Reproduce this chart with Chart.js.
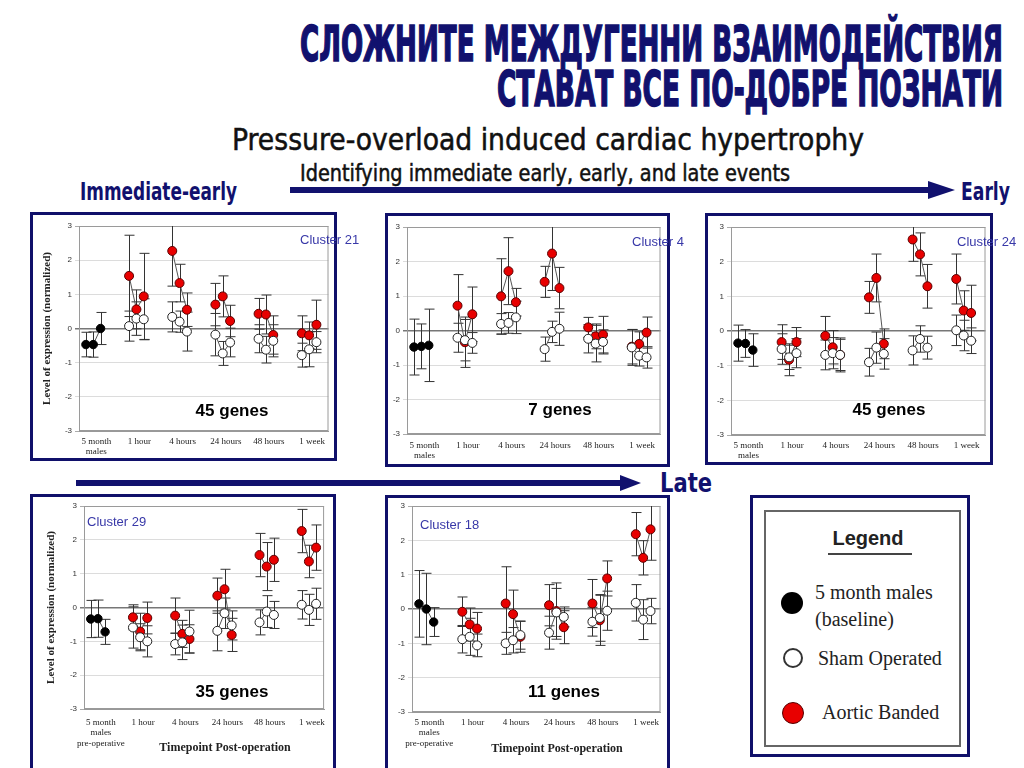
<!DOCTYPE html>
<html>
<head>
<meta charset="utf-8">
<script src="https://cdn.jsdelivr.net/npm/chart.js@4/dist/chart.umd.min.js"></script>
<style>
  html, body { margin:0; padding:0; background:#fff; }
  body { width:1024px; height:768px; position:relative; overflow:hidden; font-family:"Liberation Sans", Arial, sans-serif; }
  .t { position:absolute; white-space:nowrap; line-height:1; transform-origin:left center; }
  .narrow { font-family:"Liberation Sans Narrow", "DejaVu Sans Condensed", "Liberation Sans", sans-serif; }
  .navy { color:#11116e; }
  .heavy { -webkit-text-stroke:1.6px #11116e; }
  .semi { -webkit-text-stroke:0.5px #111; }
  .box { position:absolute; border:3px solid #10106a; box-sizing:border-box; }
  canvas { position:absolute; }
  .cluster { font-size:13px; color:#3838a8; }
  .genes { font-size:17px; font-weight:bold; color:#000; transform:translateX(-50%); }
  .xtitle { font-family:"Liberation Serif", "Times New Roman", serif; font-weight:bold; font-size:12px; color:#222; transform:translateX(-50%); }
  .lg { font-family:"Liberation Serif", "Times New Roman", serif; font-size:20px; color:#222; }
  .dot { position:absolute; border-radius:50%; box-sizing:border-box; }
</style>
</head>
<body>

<div class="t narrow navy heavy" data-w="703" style="left:300px; top:19px; font-size:50px; font-weight:bold;">СЛОЖНИТЕ МЕЖДУГЕННИ ВЗАИМОДЕЙСТВИЯ</div>
<div class="t narrow navy heavy" data-w="506" style="left:497px; top:64px; font-size:50px; font-weight:bold;">СТАВАТ ВСЕ ПО-ДОБРЕ ПОЗНАТИ</div>
<div class="t narrow semi" data-w="632" style="left:232px; top:125px; font-size:30px; color:#111;">Pressure-overload induced cardiac hypertrophy</div>
<div class="t narrow semi" data-w="490" style="left:300px; top:162px; font-size:23px; color:#111;">Identifying immediate early, early, and late events</div>
<div class="t narrow navy" data-w="157" style="left:80px; top:179px; font-size:25px; font-weight:bold;">Immediate-early</div>
<div class="t narrow navy" data-w="49" style="left:961px; top:179px; font-size:25px; font-weight:bold;">Early</div>
<div class="t narrow navy" data-w="52" style="left:660px; top:470px; font-size:26px; font-weight:bold;">Late</div>

<svg width="1024" height="768" style="position:absolute; left:0; top:0;">
  <rect x="290" y="187" width="640" height="6" fill="#11116e"/>
  <polygon points="928,181 955,190 928,199" fill="#11116e"/>
  <rect x="76" y="480" width="546" height="6" fill="#11116e"/>
  <polygon points="620,475 641,483 620,491" fill="#11116e"/>
</svg>

<div class="box" style="left:30px; top:212px; width:307px; height:249px;"></div>
<div class="box" style="left:385px; top:213px; width:285px; height:254px;"></div>
<div class="box" style="left:705px; top:213px; width:288px; height:252px;"></div>
<div class="box" style="left:30px; top:494px; width:306px; height:290px;"></div>
<div class="box" style="left:385px; top:495px; width:285px; height:290px;"></div>

<canvas id="c21" width="301" height="244" style="left:33px; top:216px;"></canvas>
<canvas id="c4" width="278" height="248" style="left:388px; top:216px;"></canvas>
<canvas id="c24" width="283" height="247" style="left:708px; top:216px;"></canvas>
<canvas id="c29" width="300" height="270" style="left:33px; top:498px;"></canvas>
<canvas id="c18" width="278" height="270" style="left:388px; top:498px;"></canvas>

<div class="t cluster" style="left:300px; top:233px;">Cluster 21</div>
<div class="t cluster" style="left:632px; top:235px;">Cluster 4</div>
<div class="t cluster" style="left:957px; top:235px;">Cluster 24</div>
<div class="t cluster" style="left:87px; top:515px;">Cluster 29</div>
<div class="t cluster" style="left:420px; top:518px;">Cluster 18</div>

<div class="t genes" style="left:232px; top:402px;">45 genes</div>
<div class="t genes" style="left:560px; top:401px;">7 genes</div>
<div class="t genes" style="left:889px; top:401px;">45 genes</div>
<div class="t genes" style="left:232px; top:683px;">35 genes</div>
<div class="t genes" style="left:564px; top:683px;">11 genes</div>

<div class="t xtitle" style="left:225px; top:741px;">Timepoint Post-operation</div>
<div class="t xtitle" style="left:557px; top:742px;">Timepoint Post-operation</div>

<div class="box" style="left:750px; top:495px; width:220px; height:262px;"></div>
<div style="position:absolute; left:764px; top:510px; width:197px; height:237px; border:2px solid #666; box-sizing:border-box;"></div>
<div class="t" style="left:868px; top:528px; font-size:20px; font-weight:bold; color:#222; transform:translateX(-50%);">Legend</div>
<div style="position:absolute; left:828px; top:553px; width:84px; height:2px; background:#444;"></div>
<div class="dot" style="left:781px; top:592px; width:22px; height:22px; background:#000;"></div>
<div class="t lg" style="left:815px; top:582px;">5 month males</div>
<div class="t lg" style="left:815px; top:609px;">(baseline)</div>
<div class="dot" style="left:783px; top:648px; width:20px; height:20px; background:#fff; border:2px solid #333;"></div>
<div class="t lg" style="left:818px; top:648px;">Sham Operated</div>
<div class="dot" style="left:782px; top:702px; width:22px; height:22px; background:#e80000; border:1px solid #500;"></div>
<div class="t lg" style="left:822px; top:702px;">Aortic Banded</div>

<script>
// x labels
const timepoints = [["5 month", "males"], "1 hour", "4 hours", "24 hours", "48 hours", "1 week"];
const timepointsPreop = [["5 month", "males", "pre-operative"], "1 hour", "4 hours", "24 hours", "48 hours", "1 week"];

// Cluster 21 (immediate-early)
const c21Baseline = [-0.47, -0.47, 0.00];
const c21BaselineErr = [0.36, 0.37, 0.47];
const c21Sham = [0.07, 0.29, 0.27, 0.34, 0.20, -0.09, -0.18, -0.73, -0.41, -0.30, -0.62, -0.36, -0.78, -0.61, -0.40];
const c21ShamErr = [0.44, 0.49, 0.60, 0.44, 0.31, 0.57, 0.62, 0.35, 0.42, 0.41, 0.39, 0.47, 0.35, 0.51, 0.31];
const c21Banded = [1.54, 0.56, 0.94, 2.27, 1.33, 0.55, 0.70, 0.94, 0.22, 0.43, 0.41, -0.19, -0.14, -0.20, 0.11];
const c21BandedErr = [1.19, 0.57, 1.26, 1.03, 0.55, 0.49, 0.62, 0.60, 0.46, 0.45, 0.57, 0.56, 0.51, 0.39, 0.72];

// Cluster 4
const c4Baseline = [-0.48, -0.46, -0.43];
const c4BaselineErr = [0.81, 0.65, 1.05];
const c4Sham = [-0.21, -0.28, -0.36, 0.19, 0.22, 0.38, -0.54, -0.04, 0.05, -0.24, -0.38, -0.33, -0.49, -0.73, -0.78];
const c4ShamErr = [0.42, 0.60, 0.30, 0.30, 0.30, 0.47, 0.35, 0.31, 0.48, 0.41, 0.53, 0.35, 0.52, 0.30, 0.31];
const c4Banded = [0.72, -0.34, 0.47, 0.99, 1.72, 0.82, 1.41, 2.23, 1.23, 0.09, -0.17, -0.12, -0.47, -0.39, -0.06];
const c4BandedErr = [0.90, 0.73, 0.79, 1.09, 0.97, 0.40, 0.45, 1.07, 0.60, 0.29, 0.36, 0.53, 0.50, 0.35, 0.45];

// Cluster 24
const c24Baseline = [-0.35, -0.36, -0.55];
const c24BaselineErr = [0.52, 0.40, 0.47];
const c24Sham = [-0.52, -0.76, -0.64, -0.69, -0.64, -0.69, -0.90, -0.48, -0.66, -0.56, -0.23, -0.48, 0.02, -0.13, -0.28];
const c24ShamErr = [0.44, 0.35, 0.42, 0.43, 0.45, 0.45, 0.40, 0.45, 0.44, 0.42, 0.38, 0.33, 0.44, 0.44, 0.37];
const c24Banded = [-0.32, -0.83, -0.32, -0.14, -0.47, -0.69, 0.97, 1.53, -0.37, 2.64, 2.21, 1.29, 1.50, 0.59, 0.52];
const c24BandedErr = [0.50, 0.46, 0.42, 0.56, 0.48, 0.49, 0.46, 0.69, 0.43, 0.63, 0.62, 0.63, 0.72, 0.57, 0.80];

// Cluster 29 (late)
const c29Baseline = [-0.34, -0.33, -0.72];
const c29BaselineErr = [0.55, 0.55, 0.37];
const c29Sham = [-0.59, -0.88, -1.00, -1.08, -1.03, -0.71, -0.69, -0.17, -0.53, -0.44, -0.12, -0.22, 0.08, -0.07, 0.11];
const c29ShamErr = [0.61, 0.40, 0.46, 0.32, 0.51, 0.63, 0.59, 0.45, 0.43, 0.37, 0.47, 0.40, 0.42, 0.46, 0.46];
const c29Banded = [-0.29, -0.71, -0.31, -0.24, -0.78, -0.93, 0.35, 0.54, -0.81, 1.55, 1.21, 1.41, 2.26, 1.36, 1.77];
const c29BandedErr = [0.37, 0.54, 0.47, 0.52, 0.40, 0.42, 0.52, 0.59, 0.49, 0.64, 0.71, 0.64, 0.64, 0.48, 0.67];

// Cluster 18
const c18Baseline = [0.15, 0.00, -0.38];
const c18BaselineErr = [0.97, 1.04, 0.42];
const c18Sham = [-0.88, -0.81, -1.06, -1.00, -0.91, -0.76, -0.69, -0.10, -0.23, -0.37, -0.26, -0.05, 0.18, -0.31, -0.06];
const c18ShamErr = [0.40, 0.54, 0.33, 0.32, 0.37, 0.41, 0.48, 0.70, 0.29, 0.42, 0.68, 0.57, 0.53, 0.58, 0.37];
const c18Banded = [-0.08, -0.45, -0.57, 0.16, -0.15, -0.81, 0.11, -0.06, -0.53, 0.16, -0.33, 0.89, 2.18, 1.49, 2.32];
const c18BandedErr = [0.43, 0.48, 0.47, 1.07, 0.70, 0.45, 0.60, 0.82, 0.48, 0.70, 0.73, 0.51, 0.63, 0.50, 0.90];

const STEP = 0.17;        // spacing of the 3 replicates inside a timepoint
const LABEL_SHIFT = 0.07; // tick labels sit a bit right of the middle point
const CAP = 5;

// 3 points per timepoint, break the line between timepoints
function toPoints(values, errs, firstGroup){
  const pts = [];
  values.forEach((v, i) => {
    const g = firstGroup + Math.floor(i / 3), k = i % 3;
    pts.push({ x: g + (k - 1) * STEP, y: v, e: errs[i] });
    if(k === 2) pts.push({ x: g + 0.5, y: null });
  });
  return pts;
}

const errorBars = {
  id: "errorBars",
  beforeDatasetsDraw(chart){
    const { ctx, chartArea: a, scales: { y } } = chart;
    ctx.save();
    ctx.strokeStyle = "#9a9a9a";
    ctx.lineWidth = 1;
    ctx.strokeRect(a.left + 0.5, a.top + 0.5, a.width - 1, a.height - 1);
    ctx.beginPath();
    ctx.rect(a.left, a.top, a.width, a.height);
    ctx.clip();
    ctx.strokeStyle = "#333";
    chart.data.datasets.forEach((ds, di) => {
      const meta = chart.getDatasetMeta(di);
      ds.data.forEach((p, i) => {
        if(p.y == null) return;
        const x = Math.round(meta.data[i].x) + 0.5;
        const top = y.getPixelForValue(p.y + p.e);
        const bot = y.getPixelForValue(p.y - p.e);
        ctx.beginPath();
        ctx.moveTo(x, top); ctx.lineTo(x, bot);
        ctx.moveTo(x - CAP, top); ctx.lineTo(x + CAP, top);
        ctx.moveTo(x - CAP, bot); ctx.lineTo(x + CAP, bot);
        ctx.stroke();
      });
    });
    ctx.restore();
  }
};

function series(data, fill, edge, r){
  return {
    data, showLine: true, spanGaps: false,
    borderColor: "#555", borderWidth: 1,
    pointRadius: r, pointHoverRadius: r,
    pointBackgroundColor: fill, pointBorderColor: edge, pointBorderWidth: 1
  };
}

function makeChart(p){
  const labels = p.labels;
  new Chart(document.getElementById(p.id), {
    type: "scatter",
    data: {
      datasets: [
        series(toPoints(p.sham, p.shamErr, 1), "#fff", "#222", 4.5),
        series(toPoints(p.banded, p.bandedErr, 1), "#e80000", "#5a0000", 4.5),
        series(toPoints(p.base, p.baseErr, 0), "#000", "#000", 4.2)
      ]
    },
    options: {
      responsive: false,
      devicePixelRatio: 1,
      animation: false,
      layout: { padding: { top: p.pt, right: p.pr, left: 0, bottom: 0 } },
      plugins: { legend: { display: false }, tooltip: { enabled: false } },
      scales: {
        x: {
          type: "linear", min: -0.33, max: p.xMax,
          grid: { display: false, drawTicks: false },
          border: { color: "#999" },
          afterBuildTicks: s => { s.ticks = labels.map((_, g) => ({ value: g + LABEL_SHIFT })); },
          afterFit: s => { s.height = p.xh; },
          ticks: {
            autoSkip: false, maxRotation: 0, padding: p.xpad,
            font: { family: "'Liberation Serif', 'Times New Roman', serif", size: 9, lineHeight: 1.17 },
            color: "#222",
            callback: (v, i) => labels[i]
          }
        },
        y: {
          min: -3, max: 3,
          afterFit: s => { s.width = p.yw; },
          ticks: {
            stepSize: 1, padding: 3,
            font: { family: "'Liberation Sans', Arial, sans-serif", size: 8 },
            color: "#333"
          },
          grid: {
            tickLength: 4,
            color: c => c.tick.value === 0 ? "#777" : (Math.abs(c.tick.value) === 3 ? "#aaa" : "#dcdcdc"),
            lineWidth: c => c.tick.value === 0 ? 1.5 : 1
          },
          border: { color: "#999" },
          title: {
            display: !!p.yTitle,
            text: "Level of expression (normalized)",
            font: { family: "'Liberation Serif', 'Times New Roman', serif", size: 11, weight: "bold" },
            color: "#222",
            padding: { top: p.titlePad || 0, bottom: 0 }
          }
        }
      }
    },
    plugins: [errorBars]
  });
}

const panels = [
  { id: "c21", labels: timepoints, base: c21Baseline, baseErr: c21BaselineErr, sham: c21Sham, shamErr: c21ShamErr, banded: c21Banded, bandedErr: c21BandedErr,
    yw: 46, xh: 29, pt: 10, pr: 2, xMax: 5.45, xpad: 5, yTitle: true, titlePad: 8 },
  { id: "c4", labels: timepoints, base: c4Baseline, baseErr: c4BaselineErr, sham: c4Sham, shamErr: c4ShamErr, banded: c4Banded, bandedErr: c4BandedErr,
    yw: 19, xh: 30, pt: 11, pr: 1, xMax: 5.49, xpad: 6 },
  { id: "c24", labels: timepoints, base: c24Baseline, baseErr: c24BaselineErr, sham: c24Sham, shamErr: c24ShamErr, banded: c24Banded, bandedErr: c24BandedErr,
    yw: 23, xh: 28, pt: 11, pr: 1, xMax: 5.50, xpad: 5 },
  { id: "c29", labels: timepointsPreop, base: c29Baseline, baseErr: c29BaselineErr, sham: c29Sham, shamErr: c29ShamErr, banded: c29Banded, bandedErr: c29BandedErr,
    yw: 51, xh: 59, pt: 8, pr: 2, xMax: 5.36, xpad: 8, yTitle: true, titlePad: 12 },
  { id: "c18", labels: timepointsPreop, base: c18Baseline, baseErr: c18BaselineErr, sham: c18Sham, shamErr: c18ShamErr, banded: c18Banded, bandedErr: c18BandedErr,
    yw: 24, xh: 56, pt: 8, pr: 1, xMax: 5.40, xpad: 5 }
];

panels.forEach(makeChart);

// squeeze headline texts to the widths they have on the slide
document.querySelectorAll("[data-w]").forEach(el => {
  const w = el.getBoundingClientRect().width;
  el.style.transform = "scaleX(" + (Number(el.dataset.w) / w) + ")";
});
</script>
</body>
</html>
